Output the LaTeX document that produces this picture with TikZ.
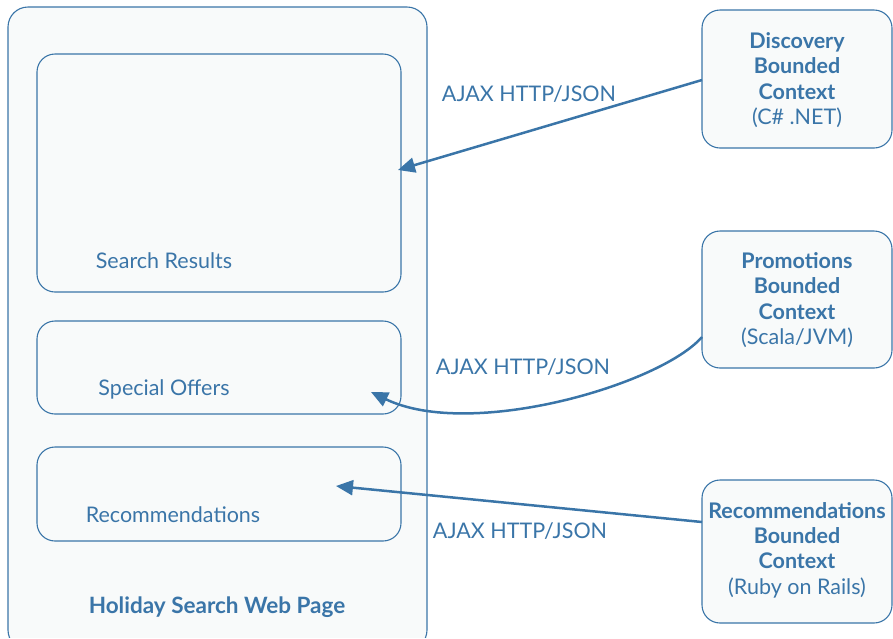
\documentclass[tikz,border=0pt]{standalone}
\usepackage{fontspec}
\setmainfont{Lato}
\usetikzlibrary{arrows.meta}
\definecolor{cblue}{HTML}{3A75A8}
\definecolor{cfill}{HTML}{F8FAFA}
\begin{document}
\begin{tikzpicture}[x=1pt,y=-1pt,
  box/.style={draw=cblue,line width=1.1pt,fill=cfill,rounded corners=18pt},
  lbl/.style={text=cblue,font=\fontsize{21.5}{25}\selectfont,inner sep=0pt},
  ctx/.style={text=cblue,font=\fontsize{21.5}{25.3}\selectfont,align=center,inner sep=0pt},
  conn/.style={draw=cblue,line width=2.5pt,-{Triangle[length=17pt,width=15pt]}}]
\useasboundingbox (0,0) rectangle (893,638);
% outer page
\draw[box,rounded corners=20pt] (8,7) rectangle (427,650);
\path[fill=white] (0,637.5) rectangle (893,640);
% inner boxes
\draw[box] (37,54) rectangle (401,292);
\draw[box] (37,321) rectangle (401,414);
\draw[box] (37,447) rectangle (401,541);
\node[lbl] (sr) at (164,261) {Search Results};
\node[lbl] (so) at (164,389) {Special Offers};
\node[lbl] (rc) at (173,515) {Recommendations};
\node[lbl,font=\bfseries\fontsize{22.5}{25}\selectfont] (hs) at (217,607) {Holiday Search Web Page};
% context boxes
\draw[box] (702,10) rectangle (892,148);
\draw[box] (702,231) rectangle (892,368);
\draw[box] (702,480) rectangle (892,623);
\node[ctx] (dc) at (797,80) {\textbf{Discovery}\\\textbf{Bounded}\\\textbf{Context}\\(C\# .NET)};
\node[ctx] (pc) at (797,300) {\textbf{Promotions}\\\textbf{Bounded}\\\textbf{Context}\\(Scala/JVM)};
\node[ctx] (rbc) at (797,550) {\textbf{Recommendations}\\\textbf{Bounded}\\\textbf{Context}\\(Ruby on Rails)};
% connector endpoints
\coordinate (d1) at (702,80);
\coordinate (d2) at (398,170);
\coordinate (p1) at (702,337);
\coordinate (p2) at (371,392);
\coordinate (r1) at (702,522);
\coordinate (r2) at (336,486);
\draw[conn] (d1) -- (d2);
\draw[conn] (p1) .. controls (660,385) and (470,440) .. (p2);
\draw[conn] (r1) -- (r2);
\node[lbl] (l1) at (529,94) {AJAX HTTP/JSON};
\node[lbl] (l2) at (523,367) {AJAX HTTP/JSON};
\node[lbl] (l3) at (520,531) {AJAX HTTP/JSON};
\end{tikzpicture}
\end{document}
